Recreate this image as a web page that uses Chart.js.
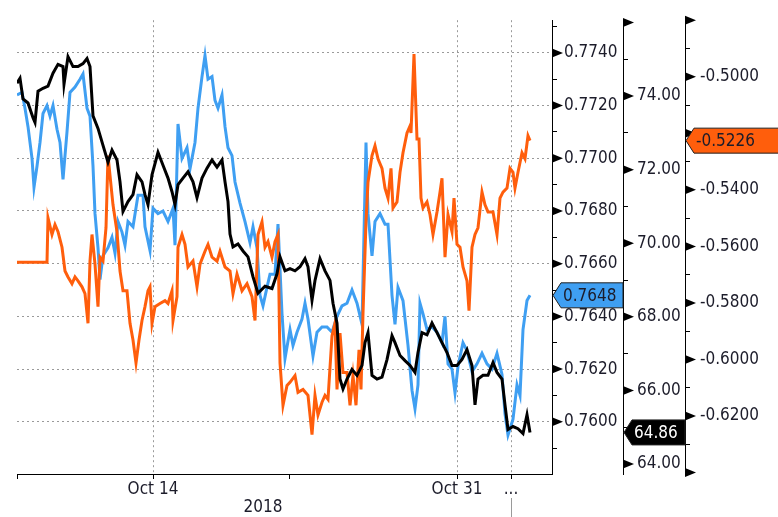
<!DOCTYPE html>
<html>
<head>
<meta charset="utf-8">
<script src="https://cdn.jsdelivr.net/npm/chart.js@4"></script>
<style>
  body { margin: 0; background: #fff; }
  canvas { display: block; }
</style>
</head>
<body>
<canvas id="chart" width="778" height="517"></canvas>
<script>
// hours since start of the window, value
const blackSeries = [[0,74.35],[3,74.48],[6,73.92],[11,73.81],[16,73.41],[18,73.28],[21,74.13],[26,74.21],[31,74.27],[36,74.62],[41,74.86],[46,74.80],[47,74.32],[51,75.07],[56,74.80],[61,74.80],[66,74.88],[70,75.02],[73,74.80],[76,73.46],[81,73.12],[86,72.66],[91,72.20],[95,72.53],[100,72.26],[103,71.67],[106,70.86],[111,71.13],[116,71.32],[120,71.86],[125,71.67],[128,71.32],[131,71.05],[135,71.86],[141,72.47],[146,72.12],[151,71.77],[155,71.40],[158,71.05],[161,71.59],[166,71.77],[171,71.94],[176,71.67],[180,71.24],[185,71.77],[190,72.04],[195,72.26],[200,72.07],[205,72.26],[208,71.67],[211,71.13],[213,70.25],[216,69.90],[221,69.98],[226,69.79],[231,69.63],[236,69.09],[241,68.64],[248,68.83],[255,68.77],[260,69.17],[263,69.63],[268,69.25],[273,69.31],[278,69.25],[283,69.36],[288,69.58],[291,69.36],[295,68.45],[298,68.99],[303,69.58],[308,69.25],[313,68.99],[316,68.37],[320,67.83],[323,66.31],[326,66.04],[330,66.31],[335,66.57],[340,66.41],[345,66.68],[348,67.30],[351,67.57],[355,66.41],[360,66.31],[365,66.36],[370,66.84],[375,67.49],[378,67.30],[383,66.95],[388,66.81],[393,66.68],[398,66.49],[401,67.03],[405,67.57],[410,67.51],[415,67.83],[420,67.57],[425,67.30],[430,67.03],[435,66.68],[440,66.68],[445,66.84],[450,67.11],[455,66.68],[458,65.61],[461,66.31],[466,66.41],[471,66.41],[476,66.76],[480,66.49],[485,66.31],[488,65.61],[491,64.94],[496,65.02],[501,64.96],[506,64.83],[510,65.34],[513,64.86]];

const blueSeries = [[0,0.7724],[5,0.7725],[8,0.7719],[11,0.7712],[15,0.7700],[17,0.7689],[20,0.7697],[23,0.7706],[26,0.7717],[30,0.7720],[33,0.7716],[36,0.7720],[40,0.7711],[43,0.7706],[46,0.7692],[50,0.7710],[53,0.7725],[58,0.7727],[63,0.7730],[66,0.7732],[70,0.7719],[73,0.7716],[76,0.7697],[78,0.7679],[81,0.7666],[83,0.7654],[86,0.7663],[91,0.7666],[95,0.7670],[98,0.7664],[101,0.7676],[105,0.7672],[108,0.7667],[111,0.7676],[116,0.7674],[121,0.7686],[126,0.7686],[128,0.7674],[133,0.7665],[136,0.7681],[141,0.7679],[146,0.7680],[151,0.7676],[156,0.7681],[158,0.7667],[161,0.7713],[165,0.7700],[170,0.7704],[173,0.7696],[178,0.7706],[181,0.7719],[185,0.7731],[188,0.7739],[191,0.7730],[195,0.7731],[198,0.7722],[201,0.7719],[205,0.7724],[208,0.7712],[211,0.7704],[215,0.7701],[218,0.7691],[223,0.7683],[228,0.7676],[233,0.7668],[236,0.7674],[240,0.7666],[243,0.7648],[246,0.7644],[250,0.7651],[253,0.7656],[258,0.7656],[261,0.7675],[265,0.7641],[268,0.7624],[273,0.7635],[276,0.7629],[280,0.7634],[285,0.7639],[288,0.7645],[291,0.7639],[296,0.7625],[300,0.7634],[305,0.7636],[310,0.7636],[315,0.7634],[320,0.7640],[325,0.7644],[330,0.7645],[335,0.7650],[340,0.7645],[345,0.7637],[349,0.7706],[351,0.7679],[355,0.7663],[358,0.7676],[363,0.7679],[368,0.7675],[371,0.7675],[375,0.7648],[378,0.7637],[381,0.7651],[386,0.7646],[391,0.7629],[395,0.7612],[398,0.7605],[401,0.7614],[403,0.7645],[406,0.7641],[410,0.7635],[415,0.7636],[420,0.7634],[425,0.7630],[428,0.7640],[431,0.7622],[435,0.7620],[438,0.7611],[441,0.7621],[446,0.7630],[450,0.7627],[455,0.7619],[460,0.7622],[465,0.7626],[470,0.7622],[475,0.7620],[480,0.7626],[485,0.7618],[488,0.7603],[491,0.7595],[496,0.7601],[500,0.7614],[503,0.7610],[506,0.7635],[510,0.7646],[513,0.7648]];

const orangeSeries = [[0,-0.5656],[30,-0.5656],[31,-0.5499],[35,-0.5558],[38,-0.5523],[41,-0.5548],[45,-0.5603],[48,-0.5687],[51,-0.5708],[55,-0.5732],[58,-0.5708],[61,-0.5722],[65,-0.5743],[68,-0.5767],[71,-0.5872],[73,-0.5652],[75,-0.5558],[78,-0.5663],[81,-0.5813],[83,-0.5638],[86,-0.5652],[89,-0.5534],[91,-0.5279],[94,-0.5384],[96,-0.5453],[100,-0.5548],[103,-0.5687],[106,-0.5757],[110,-0.5757],[113,-0.5872],[116,-0.5931],[119,-0.6012],[122,-0.5931],[125,-0.5862],[128,-0.5813],[131,-0.5757],[133,-0.5743],[135,-0.5872],[138,-0.5813],[143,-0.5802],[148,-0.5792],[151,-0.5802],[155,-0.5757],[156,-0.5862],[160,-0.5778],[161,-0.5603],[165,-0.5558],[168,-0.5593],[171,-0.5673],[176,-0.5652],[180,-0.5743],[183,-0.5663],[188,-0.5617],[191,-0.5593],[195,-0.5638],[200,-0.5652],[203,-0.5617],[208,-0.5673],[213,-0.5687],[216,-0.5767],[220,-0.5698],[225,-0.5757],[230,-0.5732],[235,-0.5778],[238,-0.5862],[241,-0.5558],[245,-0.5513],[248,-0.5603],[251,-0.5583],[255,-0.5638],[258,-0.5583],[261,-0.5558],[263,-0.6012],[266,-0.6162],[270,-0.6092],[273,-0.6081],[278,-0.6057],[281,-0.6116],[286,-0.6106],[291,-0.6127],[295,-0.6266],[298,-0.6127],[301,-0.6196],[305,-0.6151],[308,-0.6127],[311,-0.6141],[315,-0.5917],[318,-0.5872],[320,-0.6106],[323,-0.5907],[326,-0.6046],[330,-0.6046],[333,-0.6162],[336,-0.6057],[339,-0.6162],[342,-0.5966],[344,-0.6106],[346,-0.5837],[349,-0.5513],[351,-0.5373],[355,-0.5279],[358,-0.5244],[361,-0.5290],[365,-0.5324],[368,-0.5394],[371,-0.5429],[374,-0.5324],[376,-0.5464],[380,-0.5443],[383,-0.5338],[386,-0.5269],[390,-0.5199],[393,-0.5174],[394,-0.5199],[397,-0.4920],[400,-0.5220],[402,-0.5220],[404,-0.5429],[406,-0.5464],[410,-0.5443],[413,-0.5488],[416,-0.5558],[420,-0.5478],[423,-0.5408],[425,-0.5359],[428,-0.5638],[431,-0.5488],[435,-0.5548],[437,-0.5429],[440,-0.5593],[443,-0.5603],[446,-0.5673],[450,-0.5722],[452,-0.5827],[455,-0.5603],[458,-0.5558],[461,-0.5534],[465,-0.5408],[468,-0.5453],[471,-0.5478],[476,-0.5478],[480,-0.5558],[483,-0.5429],[486,-0.5408],[490,-0.5394],[493,-0.5324],[496,-0.5338],[498,-0.5394],[501,-0.5338],[505,-0.5269],[508,-0.5290],[511,-0.5209],[513,-0.5226]];

// x axis
const xTickHours = [0, 136, 272, 440, 494];
const xTickLabels = ['', 'Oct 14', '', 'Oct 31', '...'];
const yearLabel = '2018';
const yearLabelHour = 246;

// right axes: big ticks get an arrow, small ones a dash
const blueBigTicks = [0.7600, 0.7620, 0.7640, 0.7660, 0.7680, 0.7700, 0.7720, 0.7740];
const blueSmallTicks = [0.7590, 0.7610, 0.7630, 0.7650, 0.7670, 0.7690, 0.7710, 0.7730, 0.7750];
const blackBigTicks = [64, 66, 68, 70, 72, 74, 76];
const blackSmallTicks = [65, 67, 69, 71, 73, 75];
const blackHiddenLabels = [76];
const orangeBigTicks = [-0.64, -0.62, -0.60, -0.58, -0.56, -0.54, -0.52, -0.50, -0.48];
const orangeSmallTicks = [-0.63, -0.61, -0.59, -0.57, -0.55, -0.53, -0.51, -0.49];
const orangeHiddenLabels = [-0.64, -0.52, -0.48];

const BLUE = '#3f9ff2';
const ORANGE = '#ff5e0c';
const BLACK = '#000000';
const FONT = '"DejaVu Sans Condensed", "Liberation Sans", sans-serif';
const TEXT = '#1c1c2a';

const toPts = (arr) => arr.map(p => ({ x: p[0], y: p[1] }));

const mkTicks = (big, small) => (scale) => {
    scale.ticks = big.map(v => ({ value: v, big: true }))
        .concat(small.map(v => ({ value: v, big: false })))
        .sort((a, b) => a.value - b.value);
};

const hidden = (list, v) => list.some(h => Math.abs(h - v) < 1e-9);

const rightAxis = (weight, width, min, max, big, small, fmt, pad, gridOnArea) => ({
    type: 'linear',
    position: 'right',
    weight: weight,
    min: min,
    max: max,
    afterBuildTicks: mkTicks(big, small),
    afterFit: (scale) => { scale.width = width; },
    border: { display: true, color: '#000', width: 1, dash: [2, 3] },
    grid: {
        drawOnChartArea: gridOnArea,
        color: (c) => (c.tick && c.tick.big) ? '#9a9a9a' : 'rgba(0,0,0,0)',
        lineWidth: 1,
        drawTicks: true,
        tickLength: 5,
        tickColor: '#000',
        tickWidth: 1
    },
    ticks: {
        autoSkip: false,
        padding: pad,
        color: TEXT,
        font: { family: FONT, size: 17 },
        callback: fmt
    }
});

// value box at the end of each series, on its axis
const drawBox = (ctx, x, y, w, text, fill, textColor) => {
    const h = 25, notch = 9;
    ctx.beginPath();
    ctx.moveTo(x + 1, y);
    ctx.lineTo(x + notch, y - h / 2);
    ctx.lineTo(x + w, y - h / 2);
    ctx.lineTo(x + w, y + h / 2);
    ctx.lineTo(x + notch, y + h / 2);
    ctx.closePath();
    ctx.fillStyle = fill;
    ctx.fill();
    ctx.strokeStyle = '#222';
    ctx.lineWidth = 1;
    ctx.stroke();
    ctx.fillStyle = textColor;
    ctx.font = '17px ' + FONT;
    ctx.textAlign = 'left';
    ctx.textBaseline = 'middle';
    ctx.fillText(text, x + 11, y + 1);
};

const overlay = {
    id: 'overlay',
    afterDraw(chart) {
        const ctx = chart.ctx;
        ctx.save();
        // arrow ticks
        ['yBlue', 'yBlack', 'yOrange'].forEach(id => {
            const s = chart.scales[id];
            s.ticks.forEach(t => {
                if (!t.big) return;
                const y = s.getPixelForValue(t.value);
                ctx.beginPath();
                ctx.moveTo(s.left, y - 4.5);
                ctx.lineTo(s.left + 11, y);
                ctx.lineTo(s.left, y + 4.5);
                ctx.closePath();
                ctx.fillStyle = '#000';
                ctx.fill();
            });
        });

        const xs = chart.scales.x;
        // year line under the dates
        ctx.fillStyle = TEXT;
        ctx.font = '17px ' + FONT;
        ctx.textAlign = 'center';
        ctx.textBaseline = 'middle';
        ctx.fillText(yearLabel, xs.getPixelForValue(yearLabelHour), 508);
        // separator below the "..." tick
        const sx = Math.round(xs.getPixelForValue(xTickHours[4])) + 0.5;
        ctx.strokeStyle = '#9a9a9a';
        ctx.lineWidth = 1;
        ctx.beginPath();
        ctx.moveTo(sx, 498);
        ctx.lineTo(sx, 517);
        ctx.stroke();

        const lastBlue = blueSeries[blueSeries.length - 1][1];
        const lastBlack = blackSeries[blackSeries.length - 1][1];
        const lastOrange = orangeSeries[orangeSeries.length - 1][1];
        const sb = chart.scales.yBlue, sk = chart.scales.yBlack, so = chart.scales.yOrange;
        drawBox(ctx, sb.left, sb.getPixelForValue(lastBlue), sb.width, lastBlue.toFixed(4), BLUE, TEXT);
        drawBox(ctx, sk.left, sk.getPixelForValue(lastBlack), sk.width, lastBlack.toFixed(2), BLACK, '#fff');
        drawBox(ctx, so.left, so.getPixelForValue(lastOrange), so.width + 2, lastOrange.toFixed(4), ORANGE, TEXT);
        ctx.restore();
    }
};

const line = (data, color, axis) => ({
    data: toPts(data),
    yAxisID: axis,
    borderColor: color,
    borderWidth: 3,
    pointRadius: 0,
    tension: 0,
    fill: false
});

new Chart(document.getElementById('chart'), {
    type: 'line',
    data: {
        datasets: [
            line(blackSeries, BLACK, 'yBlack'),
            line(orangeSeries, ORANGE, 'yOrange'),
            line(blueSeries, BLUE, 'yBlue')
        ]
    },
    options: {
        responsive: false,
        devicePixelRatio: 1,
        animation: false,
        events: [],
        layout: { padding: { left: 17, top: 13, right: 0, bottom: 0 } },
        plugins: { legend: { display: false }, tooltip: { enabled: false } },
        scales: {
            x: {
                type: 'linear',
                min: 0,
                max: 535,
                afterBuildTicks: (scale) => { scale.ticks = xTickHours.map(v => ({ value: v })); },
                afterFit: (scale) => { scale.height = 43; },
                border: { display: true, color: '#000', width: 1, dash: [2, 3] },
                grid: {
                    color: (c) => (c.tick && xTickLabels[xTickHours.indexOf(c.tick.value)]) ? '#9a9a9a' : 'rgba(0,0,0,0)',
                    lineWidth: 1,
                    tickLength: 5,
                    tickColor: '#000',
                    tickWidth: 1
                },
                ticks: {
                    autoSkip: false,
                    maxRotation: 0,
                    padding: 0,
                    color: TEXT,
                    font: { family: FONT, size: 17 },
                    callback: (v) => xTickLabels[xTickHours.indexOf(v)]
                }
            },
            yBlue: rightAxis(0, 71, 0.75802, 0.77524, blueBigTicks, blueSmallTicks,
                function (v, i, ticks) { return ticks[i].big ? v.toFixed(4) : ''; }, 7, true),
            yBlack: rightAxis(1, 62, 63.73, 76.06, blackBigTicks, blackSmallTicks,
                function (v, i, ticks) { return (ticks[i].big && !hidden(blackHiddenLabels, v)) ? v.toFixed(2) : ''; }, 9, false),
            yOrange: rightAxis(2, 93, -0.6405, -0.4800, orangeBigTicks, orangeSmallTicks,
                function (v, i, ticks) { return (ticks[i].big && !hidden(orangeHiddenLabels, v)) ? v.toFixed(4) : ''; }, 10, false)
        }
    },
    plugins: [overlay]
});
</script>
</body>
</html>
